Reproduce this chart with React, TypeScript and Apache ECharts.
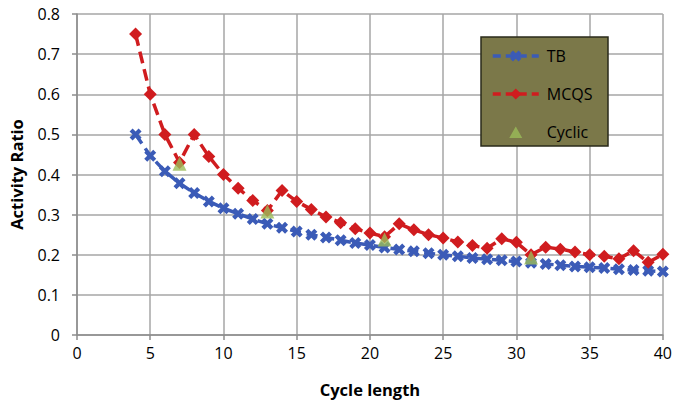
import React, { useEffect, useRef } from "react";
import * as echarts from "echarts";

const cycleLengths = [4,5,6,7,8,9,10,11,12,13,14,15,16,17,18,19,20,21,22,23,24,25,26,27,28,29,30,31,32,33,34,35,36,37,38,39,40];
const tbValues = [0.5,0.447,0.408,0.378,0.354,0.333,0.316,0.302,0.289,0.277,0.267,0.258,0.25,0.243,0.236,0.229,0.224,0.218,0.213,0.209,0.204,0.2,0.196,0.192,0.189,0.186,0.183,0.18,0.177,0.174,0.171,0.169,0.167,0.164,0.162,0.16,0.158];
const mcqsValues = [0.75,0.6,0.5,0.43,0.5,0.445,0.4,0.366,0.335,0.31,0.36,0.333,0.313,0.294,0.28,0.265,0.254,0.245,0.277,0.262,0.25,0.242,0.232,0.223,0.216,0.24,0.231,0.2,0.219,0.214,0.207,0.2,0.196,0.19,0.21,0.181,0.201];
const cyclicX = [7, 13, 21, 31];
const cyclicValues = [0.427, 0.308, 0.238, 0.193];
const seriesNames = ["TB", "MCQS", "Cyclic"];

const xSymbol = "path://M2.5,0 L5,2.5 L7.5,0 L10,2.5 L7.5,5 L10,7.5 L7.5,10 L5,7.5 L2.5,10 L0,7.5 L2.5,5 L0,2.5 Z";
const legendTriangle = "path://M0,0 M46,14 M23,1.5 L29.5,13 L16.5,13 Z";

export default function App() {
  const ref = useRef<HTMLDivElement>(null);
  useEffect(() => {
    if (!ref.current) return;
    const chart = echarts.init(ref.current, undefined, { renderer: "svg" });
    const font = "'Open Sans', 'Liberation Sans', sans-serif";
    const blue = "#3b5bb7";
    const red = "#d01c1f";
    const green = "#9bbb59";
    chart.setOption({
      animation: false,
      backgroundColor: "#ffffff",
      textStyle: { fontFamily: font },
      grid: { left: 77, right: 9, top: 14, bottom: 70 },
      graphic: [
        {
          type: "rect",
          shape: { x: 481, y: 37, width: 127, height: 109 },
          style: { fill: "#7b7849", stroke: "#2a2a1a", lineWidth: 1.5 },
          z: 10,
        },
      ],
      legend: {
        orient: "vertical",
        left: 491,
        top: 48,
        itemWidth: 46,
        itemHeight: 14,
        itemGap: 22,
        padding: 0,
        z: 20,
        textStyle: { fontSize: 16, color: "#000", fontFamily: font, padding: [0, 0, 0, 3] },
        data: [
          { name: seriesNames[0], lineStyle: { type: [8, 5], width: 3.5, color: blue } },
          { name: seriesNames[1], lineStyle: { type: [8, 5], width: 3.5, color: red } },
          { name: seriesNames[2], icon: legendTriangle, itemStyle: { color: green } },
        ],
      },
      xAxis: {
        type: "value",
        min: 0,
        max: 40,
        interval: 5,
        name: "Cycle length",
        nameLocation: "middle",
        nameGap: 46,
        nameTextStyle: { fontSize: 16.5, fontWeight: "bold", color: "#000", fontFamily: font },
        axisLine: { show: true, lineStyle: { color: "#8c8c8c", width: 1.5 } },
        axisTick: { show: true, inside: false, length: 5, lineStyle: { color: "#8c8c8c", width: 1.5 } },
        axisLabel: { fontSize: 16, color: "#000", margin: 10, fontFamily: font },
        splitLine: { show: true, lineStyle: { color: "#a6a6a6", width: 1.5 } },
      },
      yAxis: {
        type: "value",
        min: 0,
        max: 0.8,
        interval: 0.1,
        name: "Activity Ratio",
        nameLocation: "middle",
        nameGap: 52,
        nameTextStyle: { fontSize: 16.5, fontWeight: "bold", color: "#000", fontFamily: font },
        axisLine: { show: true, lineStyle: { color: "#8c8c8c", width: 1.5 } },
        axisTick: { show: true, inside: false, length: 5, lineStyle: { color: "#8c8c8c", width: 1.5 } },
        axisLabel: { fontSize: 16, color: "#000", margin: 17, fontFamily: font, formatter: (v: number) => String(Math.round(v * 10) / 10) },
        splitLine: { show: true, lineStyle: { color: "#a6a6a6", width: 1.5 } },
      },
      series: [
        {
          name: "TB",
          type: "line",
          data: cycleLengths.map((x, i) => [x, tbValues[i]]),
          symbol: xSymbol,
          symbolSize: 12,
          lineStyle: { color: blue, width: 3.5, type: [11, 6] },
          itemStyle: { color: blue },
          z: 3,
        },
        {
          name: "MCQS",
          type: "line",
          data: cycleLengths.map((x, i) => [x, mcqsValues[i]]),
          symbol: "diamond",
          symbolSize: 13,
          lineStyle: { color: red, width: 3.5, type: [12, 6] },
          itemStyle: { color: red },
          z: 4,
        },
        {
          name: "Cyclic",
          type: "scatter",
          data: cyclicX.map((x, i) => [x, cyclicValues[i]]),
          symbol: "triangle",
          symbolSize: 14,
          itemStyle: { color: green },
          z: 5,
        },
      ],
    });
    return () => chart.dispose();
  }, []);
  return <div ref={ref} style={{ width: 675, height: 405, position: "absolute", left: 0, top: 0 }} />;
}
